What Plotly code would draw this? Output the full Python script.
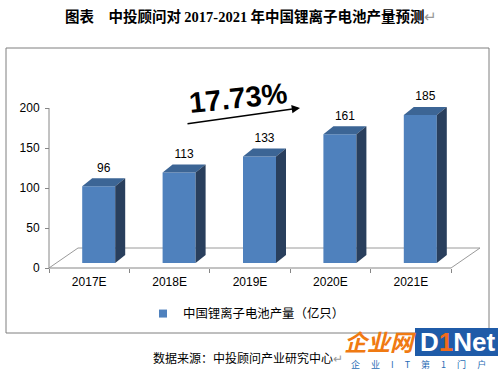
import plotly.graph_objects as go

# ---------------- data ----------------
categories = ["2017E", "2018E", "2019E", "2020E", "2021E"]
values = [96, 113, 133, 161, 185]
y_ticks = [0, 50, 100, 150, 200]
series_name = "中国锂离子电池产量（亿只）"
growth_label = "17.73%"

# ---------------- geometry helpers ----------------
W, H = 498, 371
def px(x):
    return x / W
def py(y):
    return 1 - y / H

X_PPU = 80.4          # px per category unit
Y_PPU = 0.8           # px per value unit
X_LEFT, X_RIGHT = 20, 495     # plot area (px)
Y_BOTTOM, Y_TOP = 285, 55
X0_PX = 49            # pixel of x = -0.5
Y0_PX = 268           # pixel of value 0 (axes)
BAR_SHIFT = 5 / Y_PPU # bars drawn in front, 5px higher base

xr = [-0.5 - (X0_PX - X_LEFT) / X_PPU, -0.5 + (X_RIGHT - X0_PX) / X_PPU]
yr = [-(Y_BOTTOM - Y0_PX) / Y_PPU, (Y0_PX - Y_TOP) / Y_PPU]
yr2 = [yr[0] - BAR_SHIFT, yr[1] - BAR_SHIFT]

bar_off = 9.5 / X_PPU
bar_w = 33 / X_PPU
dx = 10 / X_PPU
dyv = 8 / Y_PPU
floor_dx = 29 / X_PPU
floor_dy = 20 / Y_PPU

FRONT = "#4F81BD"
TOP = "#3C6595"
SIDE = "#293F5D"
AXIS = "#868686"

fig = go.Figure()

# floor + y-axis line (3D frame)
n = len(categories)
fig.add_trace(go.Scatter(x=[-0.5, n - 0.5], y=[0, 0], mode="lines",
                         line=dict(color=AXIS, width=1), hoverinfo="skip", showlegend=False))
fig.add_trace(go.Scatter(x=[-0.5, -0.5 + floor_dx, None, -0.5 + floor_dx, n - 0.5 + floor_dx, None,
                            n - 0.5, n - 0.5 + floor_dx],
                         y=[0, floor_dy, None, floor_dy, floor_dy, None, 0, floor_dy],
                         mode="lines", line=dict(color="#9A9A9A", width=1),
                         hoverinfo="skip", showlegend=False))
fig.add_trace(go.Scatter(x=[-0.5, -0.5], y=[0, max(y_ticks)], mode="lines",
                         line=dict(color=AXIS, width=1), hoverinfo="skip", showlegend=False))

# bar front faces
xs = [i + bar_off for i in range(n)]
fig.add_trace(go.Bar(x=xs, y=values, width=bar_w, yaxis="y2",
                     marker=dict(color=FRONT, line=dict(width=0)),
                     showlegend=False, hoverinfo="skip"))

# top and side faces
tx, ty, sx, sy = [], [], [], []
for xc, v in zip(xs, values):
    x0, x1 = xc - bar_w / 2, xc + bar_w / 2
    tx += [x0, x1, x1 + dx, x0 + dx, x0, None]
    ty += [v, v, v + dyv, v + dyv, v, None]
    sx += [x1, x1 + dx, x1 + dx, x1, x1, None]
    sy += [0, dyv, v + dyv, v, 0, None]
fig.add_trace(go.Scatter(x=tx, y=ty, yaxis="y2", fill="toself", fillcolor=TOP, mode="lines",
                         line=dict(width=0, color=TOP), hoverinfo="skip", showlegend=False))
fig.add_trace(go.Scatter(x=sx, y=sy, yaxis="y2", fill="toself", fillcolor=SIDE, mode="lines",
                         line=dict(width=0, color=SIDE), hoverinfo="skip", showlegend=False))

# value labels
fig.add_trace(go.Scatter(x=[x + dx / 2 for x in xs], y=[v + dyv + 12 for v in values], yaxis="y2",
                         mode="text", text=[str(v) for v in values], textposition="middle center",
                         textfont=dict(family="Liberation Sans, Arial", size=12, color="#000"),
                         cliponaxis=False, hoverinfo="skip", showlegend=False))

# legend entry
fig.add_trace(go.Scatter(x=[None], y=[None], mode="markers", name=series_name,
                         marker=dict(symbol="square", size=8, color=FRONT)))

fig.update_layout(
    width=W, height=H,
    margin=dict(l=0, r=0, t=0, b=0),
    paper_bgcolor="white", plot_bgcolor="rgba(0,0,0,0)",
    xaxis=dict(domain=[px(X_LEFT), px(X_RIGHT)], range=xr, anchor="free", position=py(Y0_PX),
               tickvals=list(range(n)), ticktext=categories, ticks="", showline=False,
               showgrid=False, zeroline=False, ticklabelstandoff=5,
               tickfont=dict(family="Liberation Sans, Arial", size=12, color="#000"),
               minor=dict(tickvals=[i - 0.5 for i in range(n + 1)], ticks="outside",
                          ticklen=4, tickcolor=AXIS, showgrid=False)),
    yaxis=dict(domain=[py(Y_BOTTOM), py(Y_TOP)], range=yr, anchor="free", position=px(X0_PX),
               tickvals=y_ticks, ticks="outside", ticklen=4, tickcolor=AXIS,
               showline=False, showgrid=False, zeroline=False, ticklabelstandoff=3,
               tickfont=dict(family="Liberation Sans, Arial", size=12, color="#000")),
    yaxis2=dict(overlaying="y", range=yr2, visible=False),
    showlegend=True,
    legend=dict(orientation="h", x=px(143), xanchor="left", y=py(314), yanchor="middle",
                font=dict(family="Noto Sans CJK SC", size=12.4, color="#000"),
                bgcolor="rgba(0,0,0,0)", itemwidth=30),
)

# frame
fig.add_shape(type="rect", xref="paper", yref="paper", x0=px(6), x1=px(489), y0=py(333), y1=py(48),
              line=dict(color="#7F7F7F", width=1), layer="below")

def note(x, y, text, font, **kw):
    fig.add_annotation(xref="paper", yref="paper", x=px(x), y=py(y), showarrow=False,
                       xanchor="center", yanchor="middle", text=text, font=font, **kw)

# title
note(251, 15, ("<b>图表　中投顾问对 <span style='font-family:Liberation Serif'>2017-2021</span>"
               " 年中国锂离子电池产量预测</b><span style='color:#999999'>↵</span>"),
     dict(family="Noto Sans CJK SC", size=14.5, color="#000"))

# growth rate + arrow
note(238, 98, "<b>" + growth_label + "</b>",
     dict(family="Liberation Sans, Arial", size=29, color="#000"), textangle=-6)
fig.add_annotation(xref="paper", yref="paper", x=px(300), y=py(108), ax=-114, ay=16,
                   text="", showarrow=True, arrowhead=2, arrowsize=1.1, arrowwidth=1.5,
                   arrowcolor="#000")

# source
note(248, 357, "数据来源：中投顾问产业研究中心<span style='color:#999999'>↵</span>",
     dict(family="Noto Sans CJK SC", size=12, color="#000"))

# watermark
fig.add_shape(type="rect", xref="paper", yref="paper", x0=px(415), x1=px(498), y0=py(356), y1=py(328),
              fillcolor="#1F5BA8", line=dict(width=0), layer="above")
note(380, 341, "<b><i>企业网</i></b>", dict(family="Noto Sans CJK SC", size=23, color="#F07A12"))
note(457, 342, "<b>D<span style='color:#F26B1D'>1</span>Net</b>",
     dict(family="Liberation Sans, Arial", size=26, color="#FFFFFF"))
note(418, 364, "企　 业　 I　 T　 第　 1　 门　 户",
     dict(family="Noto Sans CJK SC", size=9, color="#2A6DB5"))

fig.write_html("out.html", config={"displayModeBar": False},
               post_script="document.body.style.margin='0';")
